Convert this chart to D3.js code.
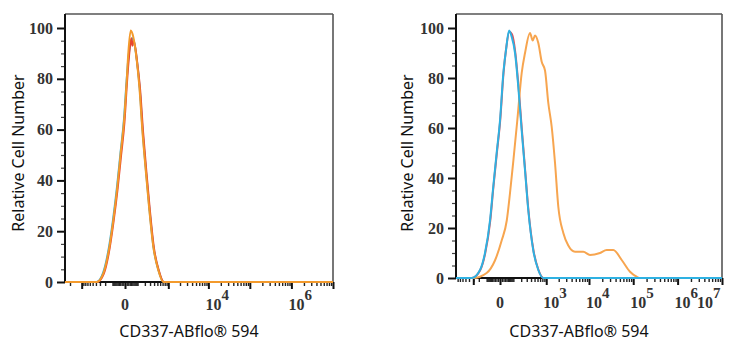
<!DOCTYPE html>
<html>
<head>
<meta charset="utf-8">
<script src="https://cdn.jsdelivr.net/npm/d3@7"></script>
<style>
  body { margin: 0; background: #fff; }
  svg { display: block; }
</style>
</head>
<body>
<div id="chart"></div>
<script>
var width = 737;
var height = 350;

// y axis, same for both panels
let yTicks = [0, 20, 40, 60, 80, 100];
let yMinor = [5, 10, 15, 25, 30, 35, 45, 50, 55, 65, 70, 75, 85, 90, 95];

// left panel: three overlapping histograms
let leftOrangeX = [-2670, -379, -232, -152, -91, -53, -27, -5, 10, 20, 37, 58, 91, 121, 161, 215, 278, 379, 531, 734, 1e7];
let leftOrangeY = [0, 0, 3.4, 11.4, 24.4, 37.5, 50.7, 63.8, 79.5, 90, 99, 96.5, 87.4, 77, 59.8, 44, 29.6, 13.9, 4.7, 0, 0];
let leftRedX = [-2670, -370, -225, -148, -88, -50, -24, -3, 12, 25, 42, 50, 62, 98, 130, 172, 228, 292, 395, 550, 760, 1e7];
let leftRedY = [0, 0, 3.2, 11, 24, 37, 50, 63, 79, 89, 96, 93, 95, 86, 76, 59, 43, 29, 13.5, 4.5, 0, 0];
let leftBlueX = [-2670, -385, -238, -156, -94, -55, -28, -6, 9, 22, 40, 50, 62, 94, 125, 165, 220, 284, 385, 538, 745, 1e7];
let leftBlueY = [0, 0, 3.5, 11.6, 24.6, 37.8, 51, 64, 79, 89, 95, 96, 95, 87, 76.5, 59.5, 43.5, 29.2, 13.6, 4.6, 0, 0];

// right panel
let rightRedX = [-880, -330, -180, -116, -66, -41, -18, 1, 20, 38, 62, 86, 120, 160, 210, 268, 336, 465, 632, 850, 1e7];
let rightRedY = [0, 0, 3.1, 9.8, 22.8, 36.3, 49.8, 63, 82, 92, 98.5, 97.5, 90.5, 77, 59.5, 43.2, 27.2, 11.2, 3.3, 0, 0];
let rightBlueX = [-880, -334, -182, -118, -68, -42, -19, 0, 19, 36, 60, 83, 118, 158, 208, 266, 334, 462, 629, 844, 1e7];
let rightBlueY = [0, 0, 3.2, 10, 23, 36.5, 50, 63, 82, 91, 99, 96.5, 90, 76.5, 59, 43, 27, 11, 3.2, 0, 0];
let rightOrangeX = [-880, -299, -100, -30, 9, 42, 68, 100, 145, 208, 266, 374, 445, 514, 629, 769, 932, 1124, 1359, 1634, 1956, 2567, 3351, 4787, 7416, 10540, 17770, 25190, 35550, 54980, 84610, 119800, 142100, 1e7];
let rightOrangeY = [0, 0, 2, 7, 15, 23, 34, 47, 63, 82, 90, 98, 95, 97, 94, 86.5, 83, 70, 60.5, 46, 28.5, 18, 13, 10.5, 10.5, 9.2, 10, 11.2, 11.2, 7.2, 2.5, 0.5, 0, 0];

// x ticks
let leftMajor = [-1000, 0, 1e3, 1e4, 1e5, 1e6, 1e7];
let leftLabels = [[0, null], [1e4, 4], [1e6, 6]];
let rightMajor = [-300, 0, 1e3, 1e4, 1e5, 1e6, 1e7];
let rightLabels = [[0, null], [1e3, 3], [1e4, 4], [1e5, 5], [1e6, 6], [1e7, 7]];

let xTitle = 'CD337-ABflo\u00AE 594';
let yTitle = 'Relative Cell Number';

let svg = d3.select('#chart').append('svg')
    .attr('width', width)
    .attr('height', height);

svg.append('rect').attr('width', width).attr('height', height).attr('fill', '#fff');

function minorTicks(dom) {
    let out = [];
    for (let e = 1; e <= 6; ++e) {
        for (let k = 1; k <= 9; ++k) {
            let v = k * Math.pow(10, e);
            if (k == 1 && e >= 3) continue;
            if (v < dom[1]) out.push(v);
            if (-v > dom[0] && -v != -1000) out.push(-v);
        }
    }
    return out;
}

function drawPanel(p) {
    let x = d3.scaleSymlog().constant(100).domain(p.dom).range([p.left, p.right]);
    let y = d3.scaleLinear().domain([0, 100]).range([p.bottom, p.top100]);

    let g = svg.append('g');

    // frame top / right
    g.append('line')
        .attr('x1', p.left).attr('x2', p.right)
        .attr('y1', p.top).attr('y2', p.top)
        .attr('stroke', '#555').attr('stroke-width', 1.6);
    g.append('line')
        .attr('x1', p.right).attr('x2', p.right)
        .attr('y1', p.top).attr('y2', p.bottom)
        .attr('stroke', '#555').attr('stroke-width', 1.6);

    // y axis
    let yMin = g.append('g')
        .attr('transform', 'translate(' + p.left + ',0)')
        .call(d3.axisLeft(y).tickValues(yMinor).tickSize(4).tickFormat(''));
    yMin.select('.domain').remove();
    yMin.selectAll('line').attr('stroke', '#444').attr('stroke-width', 1.2);

    let yAx = g.append('g')
        .attr('transform', 'translate(' + p.left + ',0)')
        .call(d3.axisLeft(y).tickValues(yTicks).tickSize(8).tickPadding(4).tickSizeOuter(0));
    yAx.select('.domain').attr('d', 'M0,' + p.top + 'V' + p.bottom).attr('stroke', '#111').attr('stroke-width', 2);
    yAx.selectAll('line').attr('stroke', '#111').attr('stroke-width', 2);
    yAx.selectAll('text')
        .attr('font-family', '"Liberation Serif", serif')
        .attr('font-weight', 'bold')
        .attr('font-size', 16)
        .attr('fill', '#333');

    // x axis
    let xMin = g.append('g')
        .attr('transform', 'translate(0,' + p.bottom + ')')
        .call(d3.axisBottom(x).tickValues(minorTicks(p.dom)).tickSize(4).tickFormat(''));
    xMin.select('.domain').remove();
    xMin.selectAll('line').attr('stroke', '#222').attr('stroke-width', 1.4);

    let xAx = g.append('g')
        .attr('transform', 'translate(0,' + p.bottom + ')')
        .call(d3.axisBottom(x).tickValues(p.major).tickSize(7).tickFormat('').tickSizeOuter(0));
    xAx.select('.domain').attr('d', 'M' + p.left + ',0H' + p.right).attr('stroke', '#111').attr('stroke-width', 2);
    xAx.selectAll('line').attr('stroke', '#111').attr('stroke-width', 2);

    // x tick labels with superscripts
    p.labels.forEach(function (l, i) {
        let t = g.append('text')
            .attr('font-family', '"Liberation Serif", serif')
            .attr('font-weight', 'bold')
            .attr('font-size', 16)
            .attr('fill', '#333');
        if (l[1] == null) {
            t.attr('x', x(l[0])).attr('y', p.labelY).attr('text-anchor', 'middle').text('0');
        } else {
            let lx = x(l[0]) - 3;
            if (i == p.labels.length - 1 && p.lastShift) lx = x(l[0]) - p.lastShift;
            t.attr('x', lx).attr('text-anchor', 'start');
            t.append('tspan').attr('y', p.labelY).text('10');
            t.append('tspan').attr('y', p.labelY - 10).attr('font-size', 15).text(l[1]);
        }
    });

    // curves
    let line = d3.line()
        .x(d => x(d[0]))
        .y(d => y(d[1]))
        .curve(d3.curveMonotoneX);
    p.series.forEach(function (s) {
        let pts = s.xs.map((v, i) => [v, s.ys[i]]);
        g.append('path')
            .datum(pts)
            .attr('d', line)
            .attr('fill', 'none')
            .attr('stroke', s.color)
            .attr('stroke-width', 2)
            .attr('stroke-linejoin', 'round');
    });

    // titles
    g.append('text')
        .attr('x', (p.left + p.right) / 2 - 10)
        .attr('y', 337)
        .attr('text-anchor', 'middle')
        .attr('font-family', '"Noto Sans", sans-serif')
        .attr('font-size', 16)
        .attr('fill', '#111')
        .text(xTitle);
    g.append('text')
        .attr('transform', 'translate(' + p.yTitleX + ',153) rotate(-90)')
        .attr('text-anchor', 'middle')
        .attr('font-family', '"Noto Sans", sans-serif')
        .attr('font-size', 16)
        .attr('fill', '#111')
        .text(yTitle);
}

drawPanel({
    dom: [-2670, 1e7], left: 65, right: 333, top: 14, bottom: 282, top100: 28,
    major: leftMajor, labels: leftLabels, labelY: 310, yTitleX: 24,
    series: [
        { xs: leftBlueX, ys: leftBlueY, color: '#2bb3e3' },
        { xs: leftRedX, ys: leftRedY, color: '#e8442e' },
        { xs: leftOrangeX, ys: leftOrangeY, color: '#f39a2c' }
    ]
});

drawPanel({
    dom: [-880, 1e7], left: 456, right: 722, top: 14, bottom: 278, top100: 28,
    major: rightMajor, labels: rightLabels, labelY: 308, yTitleX: 413, lastShift: 25,
    series: [
        { xs: rightRedX, ys: rightRedY, color: '#e0525a' },
        { xs: rightOrangeX, ys: rightOrangeY, color: '#f7a54f' },
        { xs: rightBlueX, ys: rightBlueY, color: '#2eb1e2' }
    ]
});
</script>
</body>
</html>
